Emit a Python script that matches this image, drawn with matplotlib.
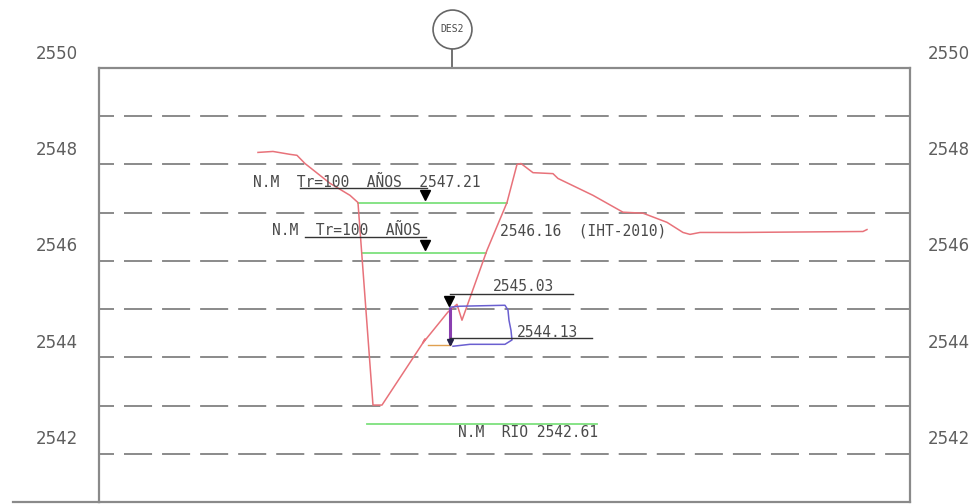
import numpy as np
import matplotlib.pyplot as plt

plt.rcParams['lines.scale_dashes'] = False

# ground profile (station, elevation)
prof_x = [15.9, 17.4, 19.1, 19.8, 20.6, 23.1, 25.1, 25.9, 27.4, 28.3, 32.3, 32.6, 32.4,
          34.9, 35.8, 36.3, 36.8, 38.8, 40.8, 41.8, 42.2, 43.4, 45.4, 45.9, 49.4,
          52.4, 54.4, 56.8, 58.4, 59.1, 60.1, 64.1, 76.4, 76.8]
prof_y = [2548.25, 2548.27, 2548.21, 2548.19, 2548.02, 2547.61, 2547.36, 2547.21,
          2543.01, 2543.01, 2544.27, 2544.38, 2544.30, 2544.94, 2545.10, 2544.77,
          2545.06, 2546.22, 2547.21, 2548.00, 2548.02, 2547.83, 2547.81, 2547.71,
          2547.36, 2547.01, 2546.99, 2546.80, 2546.59, 2546.55, 2546.59, 2546.59,
          2546.61, 2546.65]

# water levels (level, x start, x end)
wl_levels = [2547.21, 2546.16, 2542.61]
wl_start = [25.9, 26.3, 26.8]
wl_end = [40.8, 38.7, 49.8]

# culvert sketch
culv_x = [35.1, 36.1, 40.6, 40.9, 41.0, 41.2, 41.3, 40.6, 37.1, 35.4]
culv_y = [2545.04, 2545.06, 2545.08, 2544.98, 2544.77, 2544.56, 2544.36, 2544.27, 2544.27, 2544.23]

grid_levels = np.arange(2542, 2550)
label_levels = [2550, 2548, 2546, 2544, 2542]
x_min, x_max = 0, 81.1
y_min, y_max = 2541, 2550
des_x = 35.3

fig = plt.figure(figsize=(9.79, 5.04), dpi=100)
ax = fig.add_axes([0.1011, 0.004, 0.8284, 0.861])
ax.set_xlim(x_min, x_max)
ax.set_ylim(y_min, y_max)
ax.set_xticks([])
ax.set_yticks([])
for s in ax.spines.values():
    s.set_color('#8a8a8a')
    s.set_linewidth(1.6)

gray = '#8a8a8a'
txt = '#4a4a4a'
mono = 'DejaVu Sans Mono'

for lv in grid_levels:
    ax.axhline(lv, color=gray, lw=1.4, linestyle=(9.4, (20.2, 7.2)))

for lv in label_levels:
    ax.text(-4.2, lv + 0.3, str(lv), ha='center', va='center', fontsize=12, color='#5e5e5e')
    ax.text(85.0, lv + 0.3, str(lv), ha='center', va='center', fontsize=12, color='#5e5e5e')

# bottom line extends left
ax.plot([-0.106, 0], [0, 0], transform=ax.transAxes, color=gray, lw=1.6, clip_on=False)

# DES2 marker
ax.plot([des_x, des_x], [2550, 2550.41], color='#666666', lw=1.3, clip_on=False)
ax.plot(des_x, 2550.8, marker='o', ms=28, mfc='white', mec='#666666', mew=1.2, clip_on=False)
ax.text(des_x, 2550.8, 'DES2', ha='center', va='center', fontsize=7, color=txt, family=mono)

# water levels
for lv, a, b in zip(wl_levels, wl_start, wl_end):
    ax.plot([a, b], [lv, lv], color='#7de07d', lw=1.3)

ax.plot(prof_x, prof_y, color='#e8727a', lw=1.1)

# culvert
ax.plot(culv_x, culv_y, color='#6a5fd0', lw=1.1)
ax.plot([35.1, 35.1], [2545.0, 2544.3], color='#8a3fb0', lw=2.2)
ax.plot([32.9, 35.1], [2544.25, 2544.25], color='#e0a050', lw=1)

# labels with leaders
ax.text(15.4, 2547.63, 'N.M  Tr=100  AÑOS  2547.21', fontsize=10.5, color=txt, va='center', family=mono)
ax.plot([20.1, 32.8], [2547.52, 2547.52], color='#333333', lw=1)
ax.plot(32.6, 2547.37, marker='v', ms=7, color='black')

ax.text(17.3, 2546.63, 'N.M  Tr=100  AÑOS', fontsize=10.5, color=txt, va='center', family=mono)
ax.plot([20.6, 32.7], [2546.49, 2546.49], color='#333333', lw=1)
ax.plot(32.6, 2546.33, marker='v', ms=7, color='black')
ax.text(40.1, 2546.63, '2546.16  (IHT-2010)', fontsize=10.5, color=txt, va='center', family=mono)

ax.text(39.4, 2545.47, '2545.03', fontsize=10.5, color=txt, va='center', family=mono)
ax.plot([35.1, 47.4], [2545.31, 2545.31], color='#333333', lw=1)
ax.plot(35.0, 2545.17, marker='v', ms=7, color='black')

ax.text(41.8, 2544.52, '2544.13', fontsize=10.5, color=txt, va='center', family=mono)
ax.plot([35.1, 49.3], [2544.40, 2544.40], color='#333333', lw=1)
ax.plot(35.1, 2544.32, marker='v', ms=5, color='#222244')

ax.text(35.9, 2542.45, 'N.M  RIO 2542.61', fontsize=10.5, color=txt, va='center', family=mono)

fig.savefig('out.png', dpi=100, facecolor='white')
